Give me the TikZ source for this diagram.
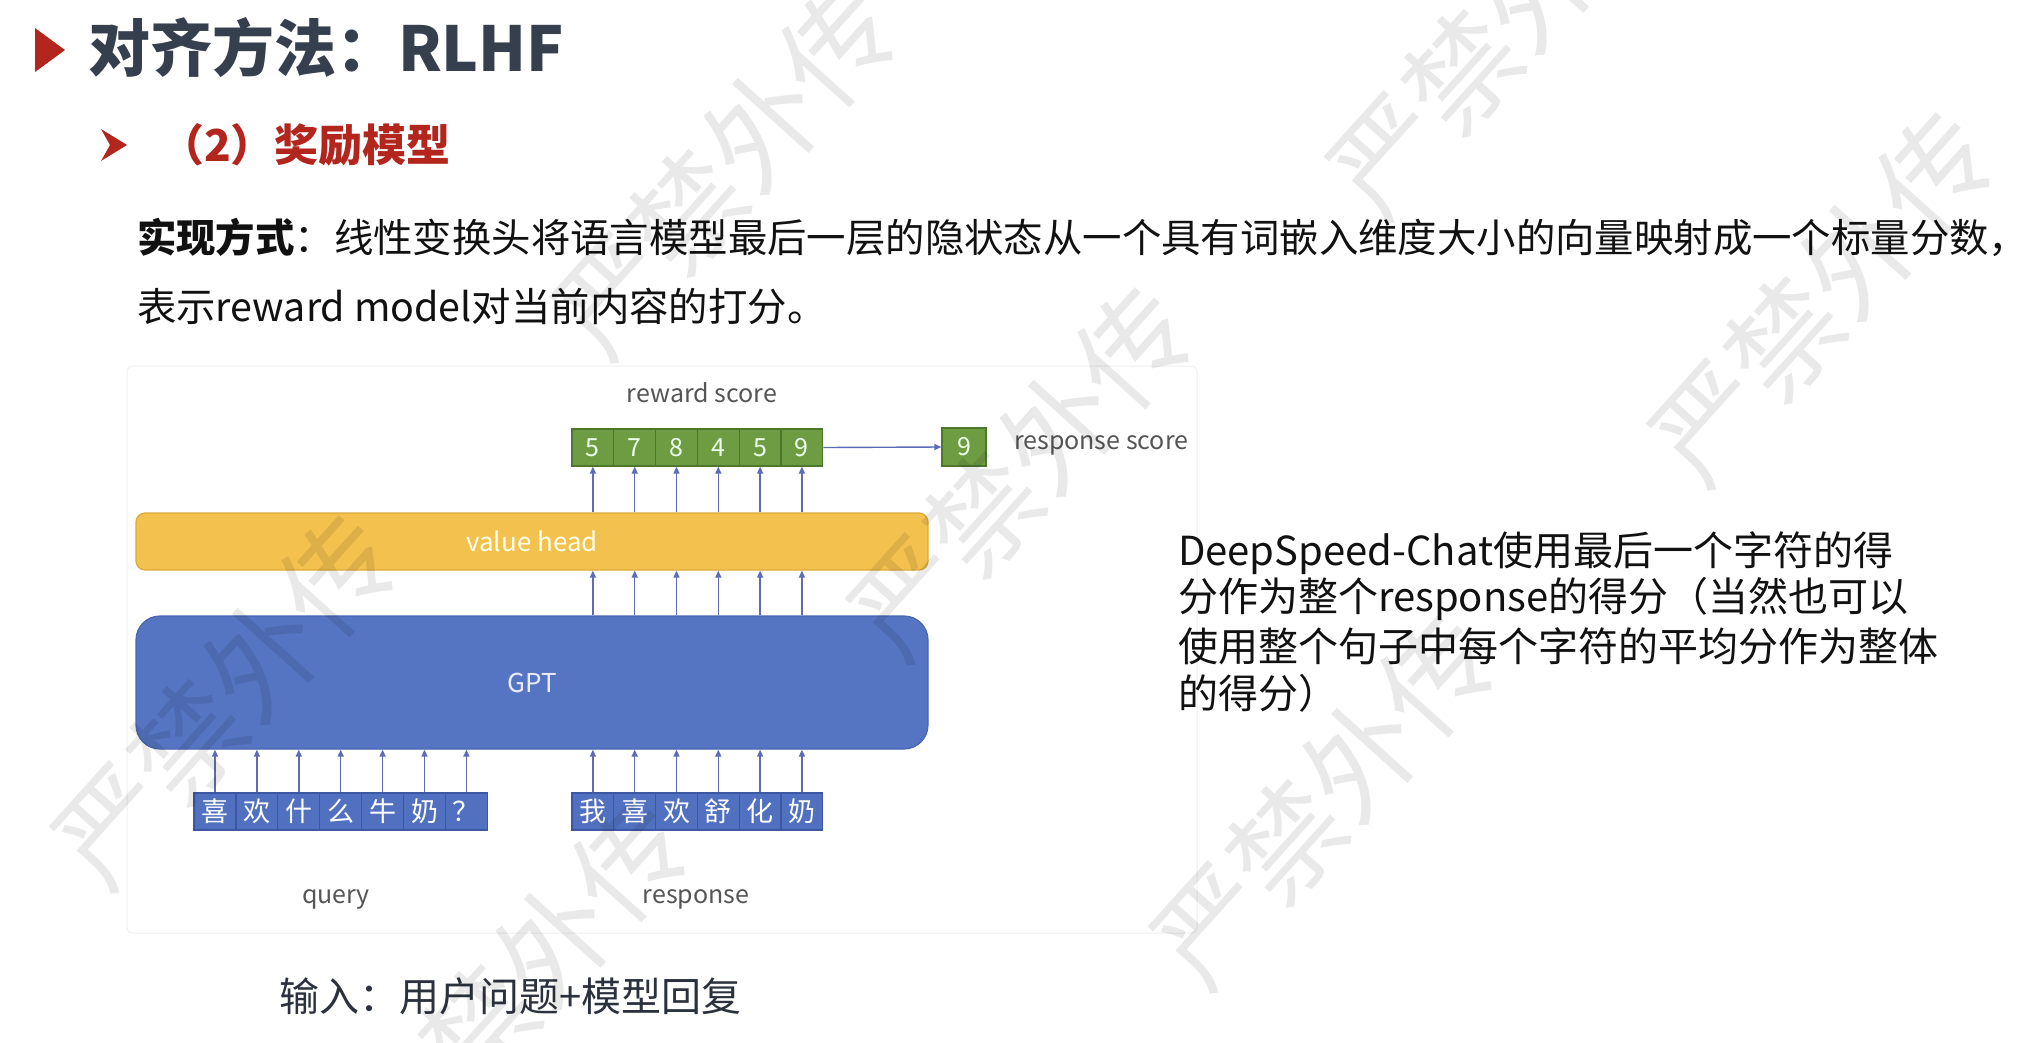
\documentclass[tikz,border=0pt]{standalone}
\usepackage{fontspec}
\setmainfont{Noto Sans CJK SC}
\usetikzlibrary{arrows.meta}

\definecolor{titlec}{HTML}{363F4E}
\definecolor{accent}{HTML}{B3261E}
\definecolor{bodyc}{HTML}{111111}
\definecolor{labelc}{HTML}{555555}
\definecolor{headfill}{HTML}{F2C14E}
\definecolor{headdraw}{HTML}{DDAA3A}
\definecolor{gptfill}{HTML}{5575C2}
\definecolor{gptdraw}{HTML}{4865B0}
\definecolor{tokfill}{HTML}{5171C0}
\definecolor{tokdraw}{HTML}{3D58A2}
\definecolor{scorefill}{HTML}{6E9C43}
\definecolor{scoredraw}{HTML}{4D772D}
\definecolor{arrowc}{HTML}{5C6CB8}
\definecolor{framec}{HTML}{F0F0F0}

\newcommand{\fsz}[1]{\fontsize{#1}{#1}\selectfont}

\tikzset{
  txt/.style={inner sep=0pt, outer sep=0pt},
  scorecell/.style={draw=scoredraw, fill=scorefill, line width=1.2pt,
    minimum width=41.8pt, minimum height=37pt, inner sep=0pt,
    text=green!8!white, font=\fsz{25}},
  tokcell/.style={draw=tokdraw, fill=tokfill, line width=1.2pt,
    minimum width=41.9pt, minimum height=37pt, inner sep=0pt,
    text=white, font=\fsz{27}},
  upar/.style={draw=arrowc, line width=1.5pt,
    -{Triangle[length=7pt,width=6pt]}},
  dlabel/.style={txt, text=labelc, font=\fsz{25}},
  wm/.style={txt, text=black, text opacity=0.085, font=\fsz{112}},
}

\begin{document}
\begin{tikzpicture}[x=1pt,y=-1pt]
\useasboundingbox[fill=white] (0,0) rectangle (2026,1042);

% heading
\fill[accent] (35,28) -- (65,50) -- (35,72) -- cycle;
\node[txt, anchor=west, text=titlec, font=\fsz{62}\bfseries] (title) at (88,48) {对齐方法：RLHF};

\fill[accent] (101,129) -- (127,145) -- (101,161) -- (110,145) -- cycle;
\node[txt, anchor=west, text=accent, font=\fsz{44}\bfseries] (sub) at (160,145) {（2）奖励模型};

% description
\node[txt, anchor=west, text=bodyc, font=\fsz{39.4}] (desc1) at (137,237)
  {{\bfseries 实现方式}：线性变换头将语言模型最后一层的隐状态从一个具有词嵌入维度大小的向量映射成一个标量分数，};
\node[txt, anchor=west, text=bodyc, font=\fsz{39.4}] (desc2) at (137,306)
  {表示reward model对当前内容的打分。};

% figure frame
\draw[framec, line width=1pt, rounded corners=6pt] (127,366) rectangle (1197,933);

% value head and GPT blocks
\node[draw=headdraw, fill=headfill, line width=1.2pt, rounded corners=9pt,
  minimum width=792pt, minimum height=57pt, inner sep=0pt,
  text=white!92!yellow, font=\fsz{26}] (vh) at (532,541.5) {value head};
\node[draw=gptdraw, fill=gptfill, line width=1.2pt, rounded corners=24pt,
  minimum width=792pt, minimum height=133pt, inner sep=0pt,
  text=white!92!blue, font=\fsz{26}] (gpt) at (532,682.5) {GPT};

% reward scores
\foreach \v [count=\i] in {5,7,8,4,5,9} {
  \node[scorecell] (s\i) at ({592.9+(\i-1)*41.8},447.5) {\v};
  \draw[upar] (s\i.south |- vh.north) -- (s\i.south);
  \draw[upar] (s\i.south |- gpt.north) -- (s\i.south |- vh.south);
}
\node[scorecell, minimum width=44pt, minimum height=38pt] (final) at (964,447) {9};
\draw[draw=arrowc, line width=1.4pt, -{Triangle[length=7pt,width=6pt]}] (s6.east) -- (final.west);

\node[dlabel] (rs) at (702,393) {reward score};
\node[dlabel, anchor=west] (fs) at (1014,445) {response score};

% input tokens
\foreach \t [count=\i] in {喜,欢,什,么,牛,奶,？} {
  \node[tokcell] (q\i) at ({215+(\i-1)*41.9},811.5) {\t};
  \draw[upar] (q\i.north) -- (q\i.north |- gpt.south);
}
\foreach \t [count=\i] in {我,喜,欢,舒,化,奶} {
  \node[tokcell, minimum width=41.8pt] (r\i) at ({592.9+(\i-1)*41.8},811.5) {\t};
  \draw[upar] (r\i.north) -- (r\i.north |- gpt.south);
}

\node[dlabel] (ql) at (336,899) {query};
\node[dlabel] (rl) at (696,899) {response};

\node[txt, anchor=west, text=titlec!80!black, font=\fsz{40}] (inp) at (279,996) {输入：用户问题+模型回复};

% side note
\node[txt, anchor=west, text=bodyc, font=\fsz{40}] (n1) at (1178,553) {DeepSpeed-Chat使用最后一个字符的得};
\node[txt, anchor=west, text=bodyc, font=\fsz{40}] (n2) at (1178,599) {分作为整个response的得分（当然也可以};
\node[txt, anchor=west, text=bodyc, font=\fsz{40}] (n3) at (1178,646) {使用整个句子中每个字符的平均分作为整体};
\node[txt, anchor=west, text=bodyc, font=\fsz{40}] (n4) at (1178,693) {的得分）};

% watermark
\foreach \wx/\wy [count=\k] in {225/700, 725/170, 1021/472, 1500/30, 1822/297, 1324/800, 517/985} {
  \node[wm, rotate=48] (wm\k) at (\wx,\wy) {严禁外传};
}
\end{tikzpicture}
\end{document}
